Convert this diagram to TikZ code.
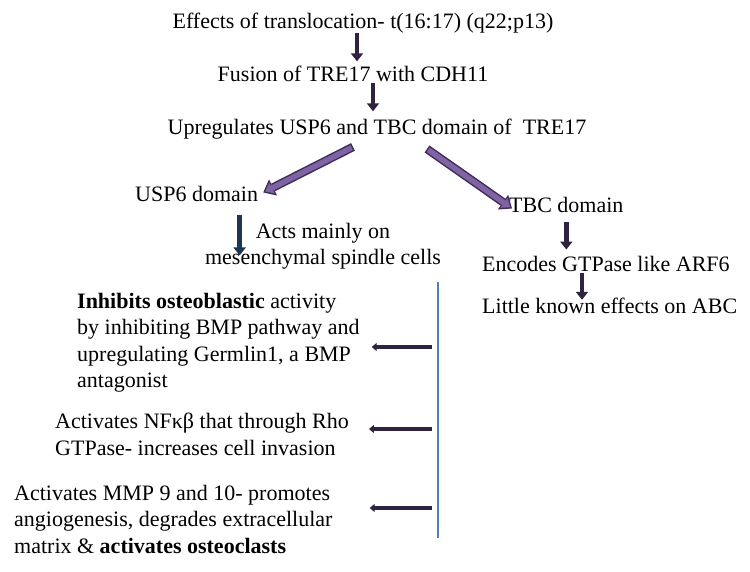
\documentclass[tikz,border=0pt]{standalone}
\usepackage{fontspec}
\setmainfont{Liberation Serif}
\usepackage{xcolor}
\usetikzlibrary{arrows.meta,positioning,calc}

\definecolor{arrdark}{HTML}{30233F}
\definecolor{arrnavy}{HTML}{1F3556}
\definecolor{fatline}{HTML}{3F2C5E}
\definecolor{fatfill}{HTML}{8064A2}
\definecolor{spineblue}{HTML}{4F81BD}

\begin{document}
\begin{tikzpicture}[
  x=1pt, y=-1pt,
  font=\fontsize{22}{26.5}\selectfont,
  txt/.style={inner sep=2pt},
  blk/.style={inner sep=0pt, align=left, anchor=north west},
  flow/.style={-{Triangle[length=8pt,width=12pt]}, line width=4.5pt, arrdark},
  navyflow/.style={flow, arrnavy},
  fat/.style={-{Triangle[length=11pt,width=18pt,line width=0pt]}, line width=8.5pt, fatline},
  fatin/.style={-{Triangle[length=7.5pt,width=12pt,line width=0pt]}, line width=5.5pt, fatfill, shorten <=1.5pt, shorten >=2.2pt},
  hflow/.style={-{Triangle[length=5pt,width=8pt]}, line width=4pt, arrdark},
  spine/.style={line width=1.2pt, spineblue}
]
\useasboundingbox (0,0) rectangle (750,572);

% main chain
\node[txt, anchor=base] (trans) at (363,29) {Effects of translocation- t(16:17) (q22;p13)};
\node[txt, anchor=base] (fusion) at (353,82) {Fusion of TRE17 with CDH11};
\node[txt, anchor=base] (upreg) at (377,135) {Upregulates USP6 and TBC domain of \ TRE17};

% two branches
\node[txt, anchor=base west] (usp) at (133,202) {USP6 domain};
\node[txt, anchor=base west] (tbc) at (507,213) {TBC domain};
\node[txt, align=center, anchor=north] (acts) at (323,221) {Acts mainly on\\mesenchymal spindle cells};
\node[txt, anchor=base west] (enc) at (480,272) {Encodes GTPase like ARF6};
\node[txt, anchor=base west] (little) at (480,313) {Little known effects on ABC};

% effects on the left
\node[blk] (inhib) at (77,293) {\textbf{Inhibits osteoblastic} activity\\by inhibiting BMP pathway and\\upregulating Germlin1, a BMP\\antagonist};
\node[blk] (nfkb) at (55,413) {Activates NFκβ that through Rho\\GTPase- increases cell invasion};
\node[blk] (mmp) at (14,485) {Activates MMP 9 and 10- promotes\\angiogenesis, degrades extracellular\\matrix \& \textbf{activates osteoclasts}};

\coordinate (spinetop) at (438,282);
\coordinate (spinebot) at (438,538);
\coordinate (s1) at (432,347);
\coordinate (s2) at (432,429);
\coordinate (s3) at (432,508);

\draw[flow, shorten <=-3pt, shorten >=3pt] ([xshift=-6pt]trans.south) -- ([xshift=-6pt]trans.south |- fusion.north);
\draw[flow, shorten <=-1pt, shorten >=6pt] ([xshift=20pt]fusion.south) -- ([xshift=20pt]fusion.south |- upreg.north);

\draw[fat] ([xshift=-24pt,yshift=-5pt]upreg.south) -- ([xshift=3pt,yshift=2pt]usp.east);
\draw[fatin] ([xshift=-24pt,yshift=-5pt]upreg.south) -- ([xshift=3pt,yshift=2pt]usp.east);
\draw[fat] ([xshift=50pt,yshift=-7pt]upreg.south) -- ([xshift=5pt,yshift=-3pt]tbc.west);
\draw[fatin] ([xshift=50pt,yshift=-7pt]upreg.south) -- ([xshift=5pt,yshift=-3pt]tbc.west);

\draw[navyflow, shorten <=11pt, shorten >=-9pt] ([xshift=43pt]usp.south) -- ([xshift=43pt]usp.south |- acts.center);
\draw[flow, shorten <=7pt, shorten >=5pt] (tbc.south) -- (tbc.south |- enc.north);
\draw[flow, shorten >=-4.5pt] ([xshift=102pt,yshift=-1pt]enc.base west) -- ([xshift=102pt]enc.base west |- little.north);

\draw[spine] (spinetop) -- (spinebot);
\draw[hflow] (s1) -- ([xshift=12pt]inhib.east |- s1);
\draw[hflow] (s2) -- ([xshift=20pt]nfkb.east |- s2);
\draw[hflow] (s3) -- ([xshift=37pt]mmp.east |- s3);
\end{tikzpicture}
\end{document}
